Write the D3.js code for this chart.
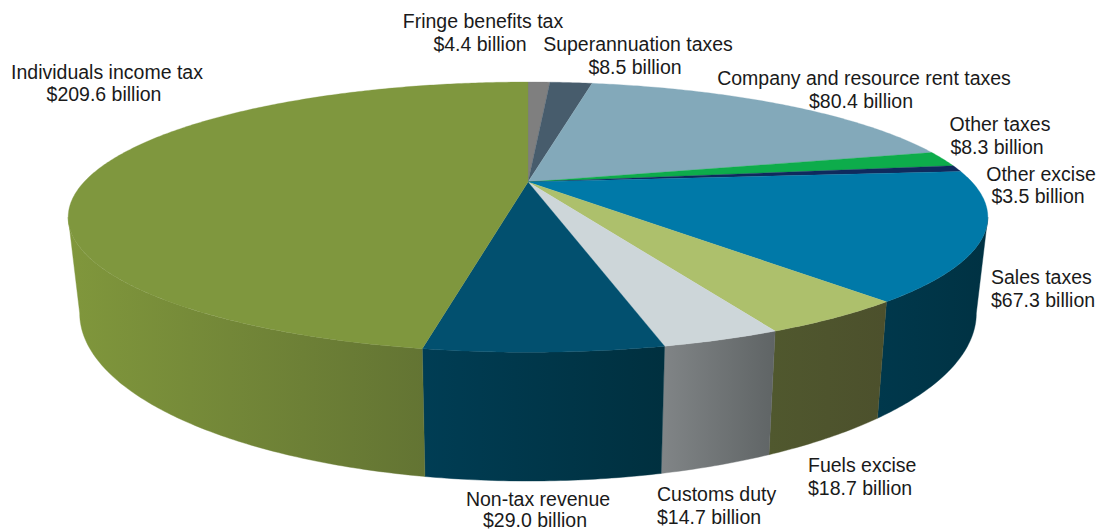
<!DOCTYPE html>
<html><head><meta charset="utf-8">
<script src="https://cdnjs.cloudflare.com/ajax/libs/d3/7.8.5/d3.min.js"></script>
<style>html,body{margin:0;background:#fff}svg{display:block}text{font-family:"Liberation Sans",Arial,sans-serif;font-size:19.5px;fill:#1a1a1a}</style>
</head><body><svg id="c" width="1100" height="531"></svg>
<script>
// Data, clockwise from twelve o'clock
const categories = ["Fringe benefits tax","Superannuation taxes","Company and resource rent taxes","Other taxes","Other excise","Sales taxes","Fuels excise","Customs duty","Non-tax revenue","Individuals income tax"];
const values = [4.4,8.5,80.4,8.3,3.5,67.3,18.7,14.7,29.0,209.6];

// Styles
const topColors = ["#7f7f7f","#475c6c","#83a9ba","#0dac4b","#0f2a5d","#0079a8","#adc06c","#cdd6d9","#02506f","#7f973e"];
const wallLeft  = ["#7f7f7f","#475c6c","#83a9ba","#0dac4b","#0f2a5d","#00384c","#50582e","#818587","#003d54","#80973c"];
const wallRight = ["#7f7f7f","#475c6c","#83a9ba","#0dac4b","#0f2a5d","#003243","#4c502c","#5f6465","#00303f","#637433"];

// Layout of the labels: [x, anchor, first baseline, line gap, x shift of the amount line] by category
const labelLayout = [[483,"middle",28,23,-3],[638,"middle",51,23,-3],[864,"middle",85,23,-3],[1000,"middle",131,23,-3],[1041,"middle",181,22,-3],[991,"start",284,23,0],[808,"start",472,23,0],[657,"start",501,23,0],[538,"middle",505.5,21,-3],[107,"middle",79,21.5,-3]];

// Perspective of the disc: top face and bottom rim
const K = 0.26, BX = 444;
const topFace = {x:528, y:182, ax:126, s:1};
const bottomRim = {x:528, y:269.4, ax:156.6, s:0.975};
const project = (t, f) => {
  const w = 1 + K*Math.cos(t);
  return [f.x + f.s*BX*Math.sin(t)/w, f.y - f.ax*Math.cos(t)/w];
};
const silhouette = Math.acos(-K);           // where the rim turns away
const wallFrom = silhouette, wallTo = 2*Math.PI - silhouette;

const svg = d3.select("#c");
const defs = svg.append("defs");
const line = d3.line();
const arcs = d3.pie().sort(null).value(d=>d)(values);
const sample = (a,b) => { const n = Math.max(2,Math.ceil((b-a)/0.01)); return d3.range(n+1).map(i=>a+(b-a)*i/n); };

// walls
arcs.forEach((d,i)=>{
  const a = Math.max(d.startAngle,wallFrom), b = Math.min(d.endAngle,wallTo);
  if (b<=a) return;
  const ts = sample(a,b);
  const pts = ts.map(t=>project(t,topFace)).concat(ts.slice().reverse().map(t=>project(t,bottomRim)));
  const [x0,x1] = d3.extent(pts,p=>p[0]);
  const g = defs.append("linearGradient").attr("id","w"+i).attr("gradientUnits","userSpaceOnUse").attr("x1",x0).attr("x2",x1).attr("y1",0).attr("y2",0);
  g.append("stop").attr("offset",0).attr("stop-color",wallLeft[i]);
  g.append("stop").attr("offset",1).attr("stop-color",wallRight[i]);
  svg.append("path").attr("d",line(pts)+"Z").attr("fill",`url(#w${i})`).attr("stroke",`url(#w${i})`).attr("stroke-width",0.4);
});
// top surface
arcs.forEach((d,i)=>{
  const pts = [[topFace.x,topFace.y]].concat(sample(d.startAngle,d.endAngle).map(t=>project(t,topFace)));
  svg.append("path").attr("d",line(pts)+"Z").attr("fill",topColors[i]).attr("stroke",topColors[i]).attr("stroke-width",0.3);
});
// labels
const money = v => "$"+d3.format(".1f")(v)+" billion";
categories.forEach((c,i)=>{
  const [x,anchor,y,gap,shift] = labelLayout[i];
  const t = svg.append("text").attr("text-anchor",anchor);
  t.append("tspan").attr("x",x).attr("y",y).text(c);
  t.append("tspan").attr("x",x+shift).attr("y",y+gap).text(money(values[i]));
});
</script></body></html>
